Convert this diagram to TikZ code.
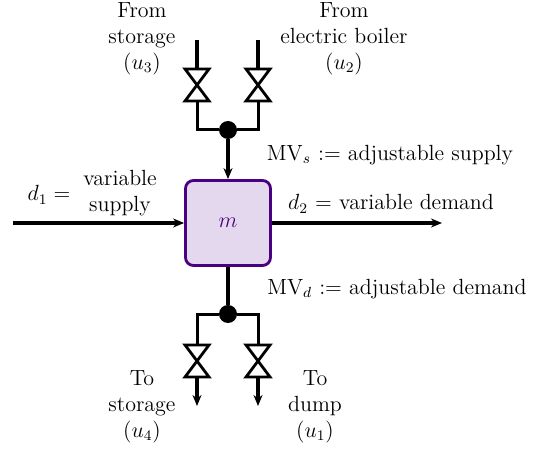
\documentclass[tikz,border=0pt]{standalone}
\usepackage{xcolor}
\usetikzlibrary{arrows.meta, positioning, calc}
\definecolor{boxline}{RGB}{75, 0, 130}
\definecolor{boxfill}{RGB}{227, 216, 238}
\newcommand{\valvesym}[1]{\draw[valve] ($(#1)+(-12,16)$) -- ($(#1)+(12,16)$) -- ($(#1)+(-12,-16)$) -- ($(#1)+(12,-16)$) -- cycle;}

\begin{document}
\begin{tikzpicture}[
    x=1pt, y=1pt,
    mixer/.style={rectangle, draw=boxline, fill=boxfill, line width=2.8pt, rounded corners=8pt, minimum size=85pt, inner sep=0pt},
    mixtext/.style={text=boxline, font=\fontsize{12}{14}\selectfont, scale=1.83, inner sep=0pt},
    label/.style={align=center, font=\fontsize{12}{14.1}\selectfont, text=black, inner sep=0pt, scale=1.83},
    junction/.style={circle, fill=black, inner sep=0pt, minimum size=18pt},
    main/.style={line width=3.4pt, -{Stealth[length=11pt, width=9pt]}},
    pipe/.style={line width=3.6pt},
    branch/.style={line width=3pt},
    valve/.style={line width=2.8pt, fill=white, line join=miter}
]
\useasboundingbox (0,0) rectangle (540,450);

\node[mixer] (mix) at (228,227) {};
\node[mixtext] (mixname) at (mix) {$m$};
\node[junction] (jtop) at (228,320) {};
\node[junction] (jbot) at (228,136) {};

\coordinate (vu3) at (197,365);
\coordinate (vu2) at (258,365);
\coordinate (vu4) at (197,89);
\coordinate (vu1) at (258,89);
\coordinate (in3) at (197,410);
\coordinate (in2) at (258,410);
\coordinate (out4) at (197,44);
\coordinate (out1) at (258,44);
\coordinate (ind1) at (13,227);
\coordinate (outd2) at (442,227);

% supply side
\draw[pipe] (in3) -- (vu3);
\draw[pipe] (in2) -- (vu2);
\draw[branch] (vu3) |- (jtop);
\draw[branch] (vu2) |- (jtop);
\valvesym{vu3}
\valvesym{vu2}
\draw[main] (jtop) -- (mix.north);

% demand side
\draw[pipe] (mix.south) -- (jbot);
\draw[branch] (vu4) |- (jbot);
\draw[branch] (vu1) |- (jbot);
\draw[main] (vu4) -- (out4);
\draw[main] (vu1) -- (out1);
\valvesym{vu4}
\valvesym{vu1}

\draw[main] (ind1) -- (mix.west);
\draw[main] (mix.east) -- (outd2);

\node[label] (lu3) at (142,411) {From\\storage\\$(u_3)$};
\node[label] (lu2) at (344,411) {From\\electric boiler\\$(u_2)$};
\node[label] (lu4) at (142,43) {To\\storage\\$(u_4)$};
\node[label] (lu1) at (315,43) {To\\dump\\$(u_1)$};
\node[label] (ld1) at (49,255) {$d_1 =$};
\node[label] (lvar) at (120,257) {variable\\supply};
\node[label] (ld2) at (391,246) {$d_2$ = variable demand};
\node[label] (lmvs) at (390,295) {MV$_s$ := adjustable supply};
\node[label] (lmvd) at (397,161) {MV$_d$ := adjustable demand};
\end{tikzpicture}
\end{document}
